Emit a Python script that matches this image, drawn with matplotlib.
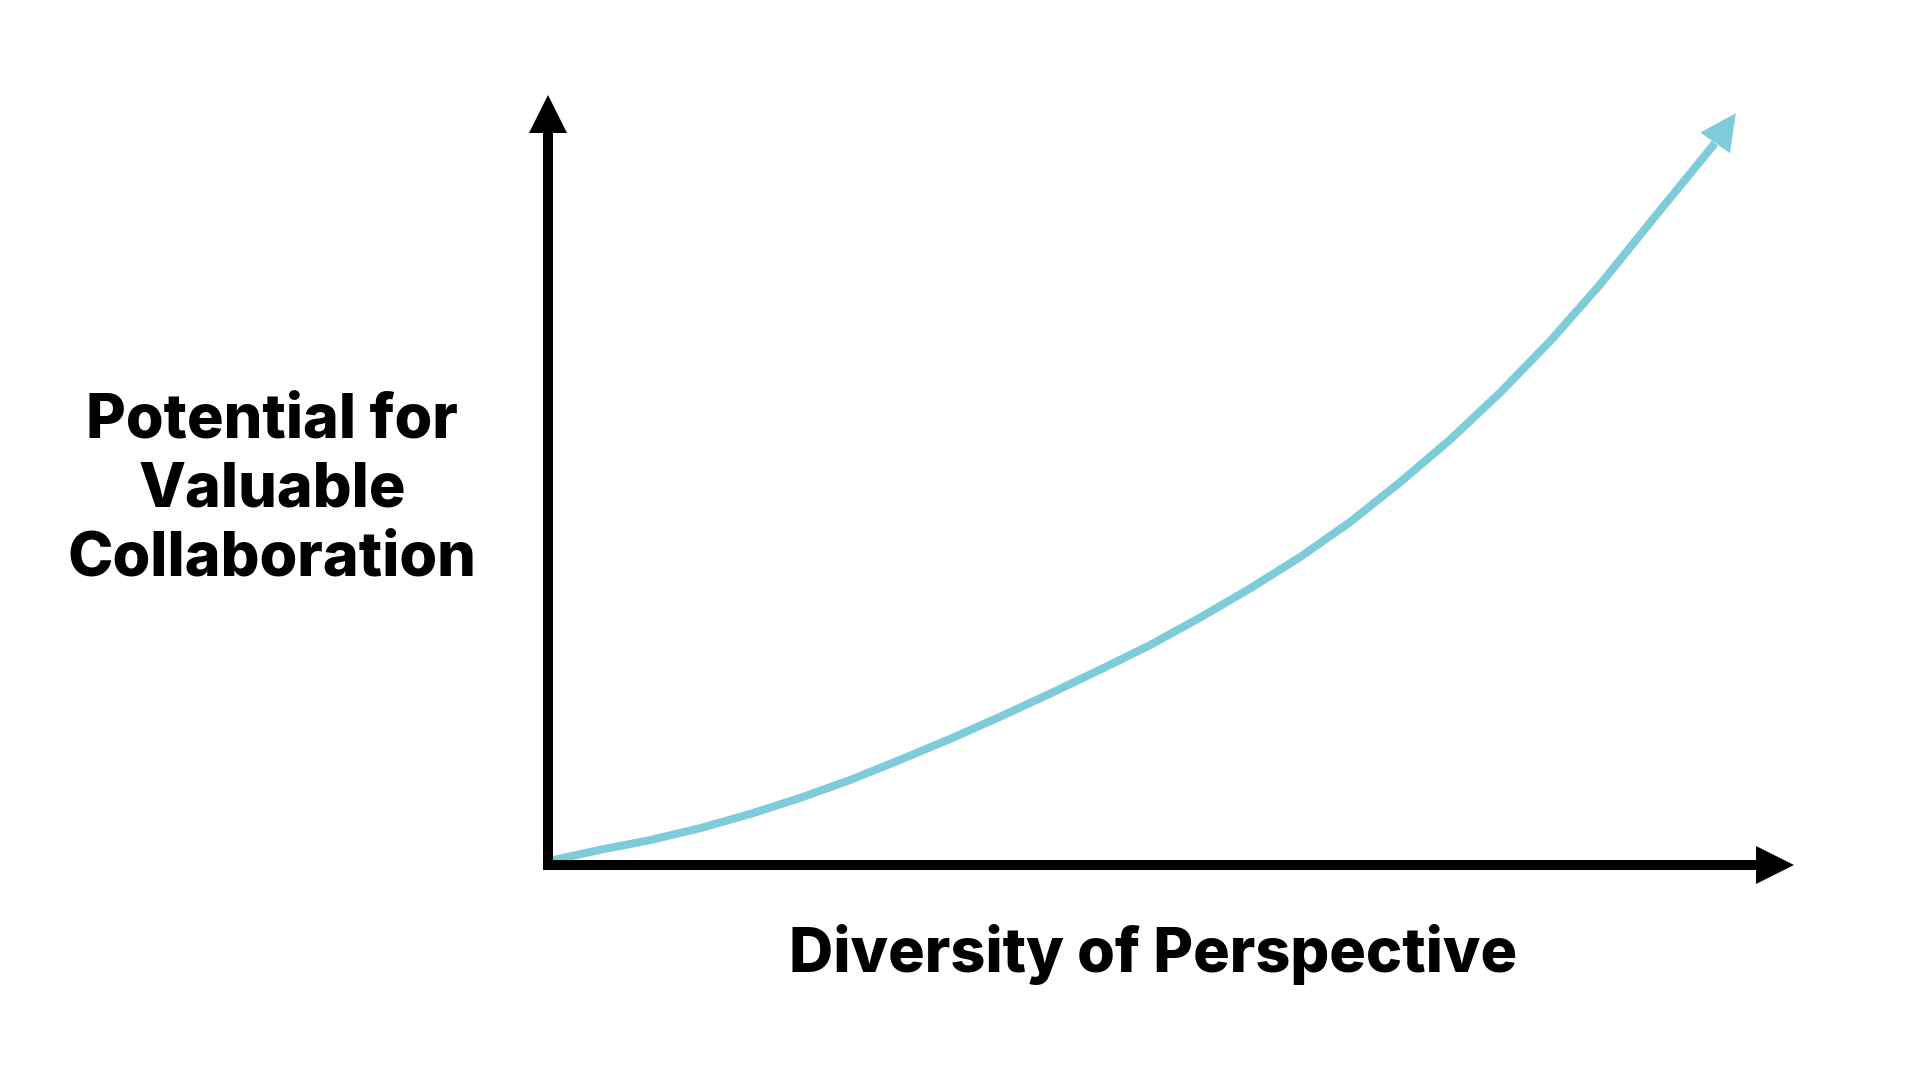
"""Concept chart: collaboration potential grows with diversity of perspective."""

import matplotlib.pyplot as plt

# Curve (axis units 0..10 on both axes)
diversity = [0.0, 0.42, 0.83, 1.24, 1.65, 2.05, 2.46, 2.87, 3.28, 3.68,
             4.09, 4.50, 4.91, 5.31, 5.72, 6.13, 6.54, 6.94, 7.35, 7.76,
             8.17, 8.57, 8.98, 9.51, 9.68]
potential = [0.05, 0.20, 0.33, 0.49, 0.68, 0.89, 1.13, 1.40, 1.68, 1.97,
             2.28, 2.60, 2.93, 3.29, 3.68, 4.10, 4.57, 5.09, 5.66, 6.29,
             6.98, 7.72, 8.55, 9.61, 10.01]

x_label = "Diversity of Perspective"
y_label_lines = ["Potential for", "Valuable", "Collaboration"]

CURVE_COLOR = "#7ecbd9"
FONT = ["Inter", "Lato", "DejaVu Sans"]

fig = plt.figure(figsize=(19.2, 10.8), dpi=100)
ax = fig.add_axes([0.2854, 0.1991, 0.6391, 0.6954])
ax.set_xlim(0, 10)
ax.set_ylim(0, 10)

# Axes: thick black spines with triangular heads
for side in ("top", "right"):
    ax.spines[side].set_visible(False)
for side in ("left", "bottom"):
    ax.spines[side].set_linewidth(7.2)
    ax.spines[side].set_color("black")
    ax.spines[side].set_capstyle("projecting")
ax.set_xticks([])
ax.set_yticks([])
ax.plot(1, 0, ">", color="black", markersize=27.4, markeredgewidth=0,
        transform=ax.transAxes, clip_on=False)
ax.plot(0, 1, "^", color="black", markersize=27.4, markeredgewidth=0,
        transform=ax.transAxes, clip_on=False)

# Curve body plus an arrowhead on the last segment
ax.plot(diversity[:-1], potential[:-1], color=CURVE_COLOR, linewidth=5.8,
        solid_capstyle="butt", solid_joinstyle="round", clip_on=False,
        zorder=2)
ax.annotate("", xy=(diversity[-1], potential[-1]),
            xytext=(diversity[-2], potential[-2]),
            arrowprops=dict(arrowstyle="-|>,head_length=26,head_width=13",
                            mutation_scale=1, lw=0, color=CURVE_COLOR,
                            shrinkA=0, shrinkB=0),
            annotation_clip=False)

# Labels
fig.text(0.6005, 0.1, x_label, ha="center", va="baseline",
         fontsize=44, fontweight="heavy", family=FONT)
for i, line in enumerate(y_label_lines):
    fig.text(272 / 1920, 1 - (437 + 69.5 * i) / 1080, line, ha="center",
             va="baseline", fontsize=44, fontweight="heavy", family=FONT)

fig.savefig("out.png", dpi=100, facecolor="white")
plt.close(fig)
